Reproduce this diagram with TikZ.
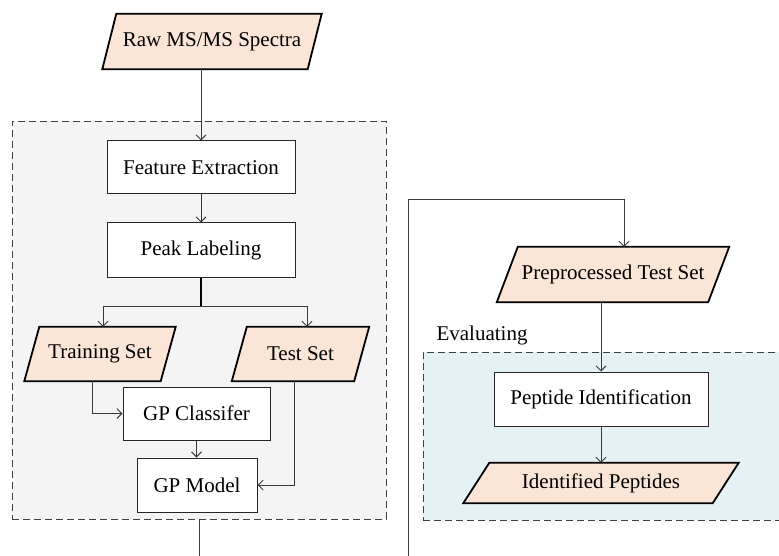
\documentclass[tikz,border=0pt]{standalone}
\usepackage{fontspec}
\setmainfont{Liberation Serif}
\usetikzlibrary{arrows.meta}
\pgfdeclarelayer{back}
\pgfdeclarelayer{mid}
\pgfsetlayers{back,mid,main}
\definecolor{peach}{HTML}{FBE5D6}
\definecolor{panelgray}{HTML}{F4F4F4}
\definecolor{panelblue}{HTML}{E4F2F6}
\definecolor{linegray}{HTML}{3A3A3A}

\tikzset{
  every node/.style={font=\fontsize{21}{25}\selectfont},
  procbox/.style={draw=black!85, line width=1pt, fill=white, inner sep=0pt},
  iobox/.style={inner sep=0pt},
  panel/.style={draw=black!75, dash pattern=on 7pt off 4pt, line width=0.8pt, inner sep=0pt},
  link/.style={draw=linegray, line width=0.9pt, -{Straight Barb[length=5pt,width=10pt]}},
  plainlink/.style={draw=linegray, line width=0.9pt},
}
% parallelogram outline behind an input/output node: #1 node name, #2 half the slant
\newcommand{\ioshape}[2]{%
  \begin{pgfonlayer}{mid}
  \draw[fill=peach, line width=1.8pt, line join=miter]
    ([xshift=#2pt]#1.north west) -- ([xshift=#2pt]#1.north east)
    -- ([xshift=-#2pt]#1.south east) -- ([xshift=-#2pt]#1.south west) -- cycle;
  \end{pgfonlayer}}

\begin{document}
\begin{tikzpicture}[x=1pt, y=-1pt]
\useasboundingbox (0,0) rectangle (779,556);
\clip (0,0) rectangle (779,556);

% grouping panels
\begin{pgfonlayer}{back}
\node[panel, fill=panelgray, minimum width=374pt, minimum height=398pt] (grp) at (199,320) {};
\node[panel, fill=panelblue, minimum width=367pt, minimum height=168pt] (evalgrp) at (606.5,436) {};
\end{pgfonlayer}
\node (evallbl) at (482,335) {Evaluating};

% preprocessing chain
\node[iobox, minimum width=205pt, minimum height=55pt] (raw) at (212,41.5) {Raw MS/MS Spectra};
\ioshape{raw}{7}
\node[procbox, minimum width=188pt, minimum height=53pt] (fe) at (201,167.5) {Feature Extraction};
\node[procbox, minimum width=188pt, minimum height=54pt] (pl) at (201,250) {Peak Labeling};
\node[iobox, minimum width=136pt, minimum height=54pt] (train) at (100,354) {Training Set};
\ioshape{train}{7.5}
\node[iobox, minimum width=122pt, minimum height=54pt] (test) at (300.5,354) {Test Set};
\ioshape{test}{7.5}
\node[procbox, minimum width=147pt, minimum height=53pt] (gpc) at (196.5,413.5) {GP Classifer};
\node[procbox, minimum width=120pt, minimum height=54pt] (gpm) at (197,485) {GP Model};

% evaluation chain
\node[iobox, minimum width=211pt, minimum height=55pt] (pre) at (613,274.5) {Preprocessed Test Set};
\ioshape{pre}{10.5}
\node[procbox, minimum width=214pt, minimum height=54pt] (pid) at (601,399) {Peptide Identification};
\node[iobox, minimum width=249pt, minimum height=40pt] (idp) at (601,483) {Identified Peptides};
\ioshape{idp}{13}

% connectors
\draw[link] (fe.north |- raw.south) -- (fe.north);
\draw[link] (fe.south) -- (pl.north);
\coordinate (split) at (201,306);
\draw[line width=2.4pt] (pl.south) -- (split);
\draw[link] (split) -| ([xshift=3pt]train.north);
\draw[link] (split) -| ([xshift=6.5pt]test.north);
\draw[link] ([xshift=-8pt]train.south) |- (gpc.west);
\draw[link] (gpc.south) -- (gpc.south |- gpm.north);
\draw[link] ([xshift=-6.5pt]test.south) |- (gpm.east);

\coordinate (exitpt) at (199,560);
\draw[plainlink] (grp.south) -- (exitpt);
\coordinate (entrypt) at (408,560);
\coordinate (bend) at (408,199);
\draw[link] (entrypt) -- (bend) -| ([xshift=11pt]pre.north);
\draw[link] (pid.north |- pre.south) -- (pid.north);
\draw[link] (pid.south) -- (pid.south |- idp.north);
\end{tikzpicture}
\end{document}
